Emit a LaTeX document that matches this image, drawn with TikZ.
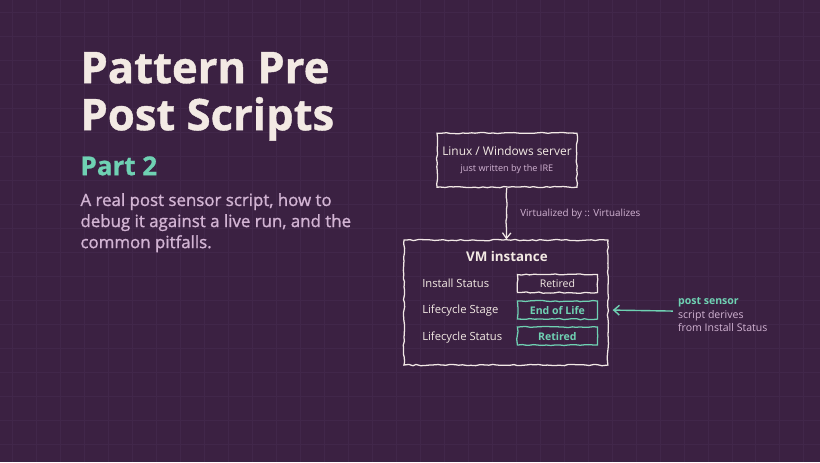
\documentclass[tikz,border=0pt]{standalone}
\usepackage{fontspec}
\setmainfont{Open Sans}
\newfontfamily\medfont[FakeBold=1.2]{Open Sans}
\newfontfamily\heavyfont[BoldFeatures={FakeBold=0.9}]{Open Sans}
\usetikzlibrary{arrows.meta, positioning, decorations.pathmorphing}
\definecolor{bgPurple}{HTML}{3B2142}
\definecolor{gridLine}{HTML}{41274A}
\definecolor{textLight}{HTML}{F3EAE4}
\definecolor{textLav}{HTML}{D2B4D3}
\definecolor{accTeal}{HTML}{6FD1B3}
\definecolor{lineWhite}{HTML}{F2E8E6}

\tikzset{
  sketch/.style={draw=lineWhite, line width=0.9pt,
    decorate, decoration={random steps, segment length=3pt, amplitude=0.5pt}},
  valbox/.style={sketch, minimum width=2.0cm, minimum height=0.45cm,
    inner sep=0pt, font=\fontsize{7.5}{9}\selectfont},
  rowlabel/.style={anchor=west, inner sep=0pt, text=textLight, font=\fontsize{8}{9}\selectfont},
}

\begin{document}
\begin{tikzpicture}[x=0.025cm, y=-0.025cm]
  \fill[bgPurple] (0,0) rectangle (820,462);
  \foreach \gx in {12,36,...,820} \draw[gridLine, line width=0.4pt] (\gx,0) -- (\gx,462);
  \foreach \gy in {12,36,...,462} \draw[gridLine, line width=0.4pt] (0,\gy) -- (820,\gy);
  \useasboundingbox (0,0) rectangle (820,462);

  % heading
  \node[anchor=base west, align=left, inner sep=0pt, text=textLight,
    font=\fontsize{31}{33.5}\selectfont\heavyfont\bfseries] (title) at (80,130)
    {Pattern Pre\\Post Scripts};
  \node[anchor=base west, inner sep=0pt, text=accTeal,
    font=\fontsize{18.5}{20}\selectfont\heavyfont\bfseries]
    (part) at (80,175) {Part 2};
  \node[anchor=base west, align=left, inner sep=0pt, text=textLav,
    font=\fontsize{12}{15}\selectfont\medfont] (intro) at (80,248)
    {A real post sensor script, how to\\debug it against a live run, and the\\common pitfalls.};

  % server
  \node[sketch, minimum width=3.5cm, minimum height=1.35cm, align=center,
    text=textLight, font=\fontsize{8.5}{10}\selectfont] (server) at (507,160)
    {Linux / Windows server\\[1pt]{\color{textLav}\fontsize{6.5}{8}\selectfont just written by the IRE}};

  % vm instance
  \node[sketch, minimum width=5.1cm, minimum height=3.125cm] (vm) at (506,302.5) {};
  \node[text=textLight, font=\fontsize{9.5}{11}\selectfont\bfseries] (vmtitle) at (507,256) {VM instance};

  \node[rowlabel] (lInstall) at (422,283) {Install Status};
  \node[rowlabel] (lStage) at (422,310) {Lifecycle Stage};
  \node[rowlabel] (lStatus) at (422,337) {Lifecycle Status};

  \node[valbox, text=textLight] (vInstall) at (557.5,283.5) {Retired};
  \node[valbox, draw=accTeal, text=accTeal, font=\fontsize{7.5}{9}\selectfont\bfseries]
    (vStage) at (557.5,310) {End of Life};
  \node[valbox, draw=accTeal, text=accTeal, font=\fontsize{7.5}{9}\selectfont\bfseries]
    (vStatus) at (557.5,336) {Retired};

  \draw[lineWhite, line width=0.9pt, -{Straight Barb[length=4pt, width=6pt]},
    decorate, decoration={random steps, segment length=3pt, amplitude=0.4pt}]
    (server) -- (vm)
    node[midway, right=6pt, text=textLav, font=\fontsize{7}{8}\selectfont] (rel)
    {Virtualized by :: Virtualizes};

  % post sensor note
  \node[anchor=north west, align=left, text=textLav, inner sep=0pt,
    font=\fontsize{7.5}{9.8}\selectfont] (note) at (678,297)
    {{\color{accTeal}\bfseries post sensor}\\script derives\\from Install Status};
  \coordinate (noteTip) at (673,311);
  \draw[accTeal, line width=1pt, -{Straight Barb[length=4pt, width=7pt]}]
    (noteTip) -- ([xshift=3pt]vm.east |- vStage);
\end{tikzpicture}
\end{document}
